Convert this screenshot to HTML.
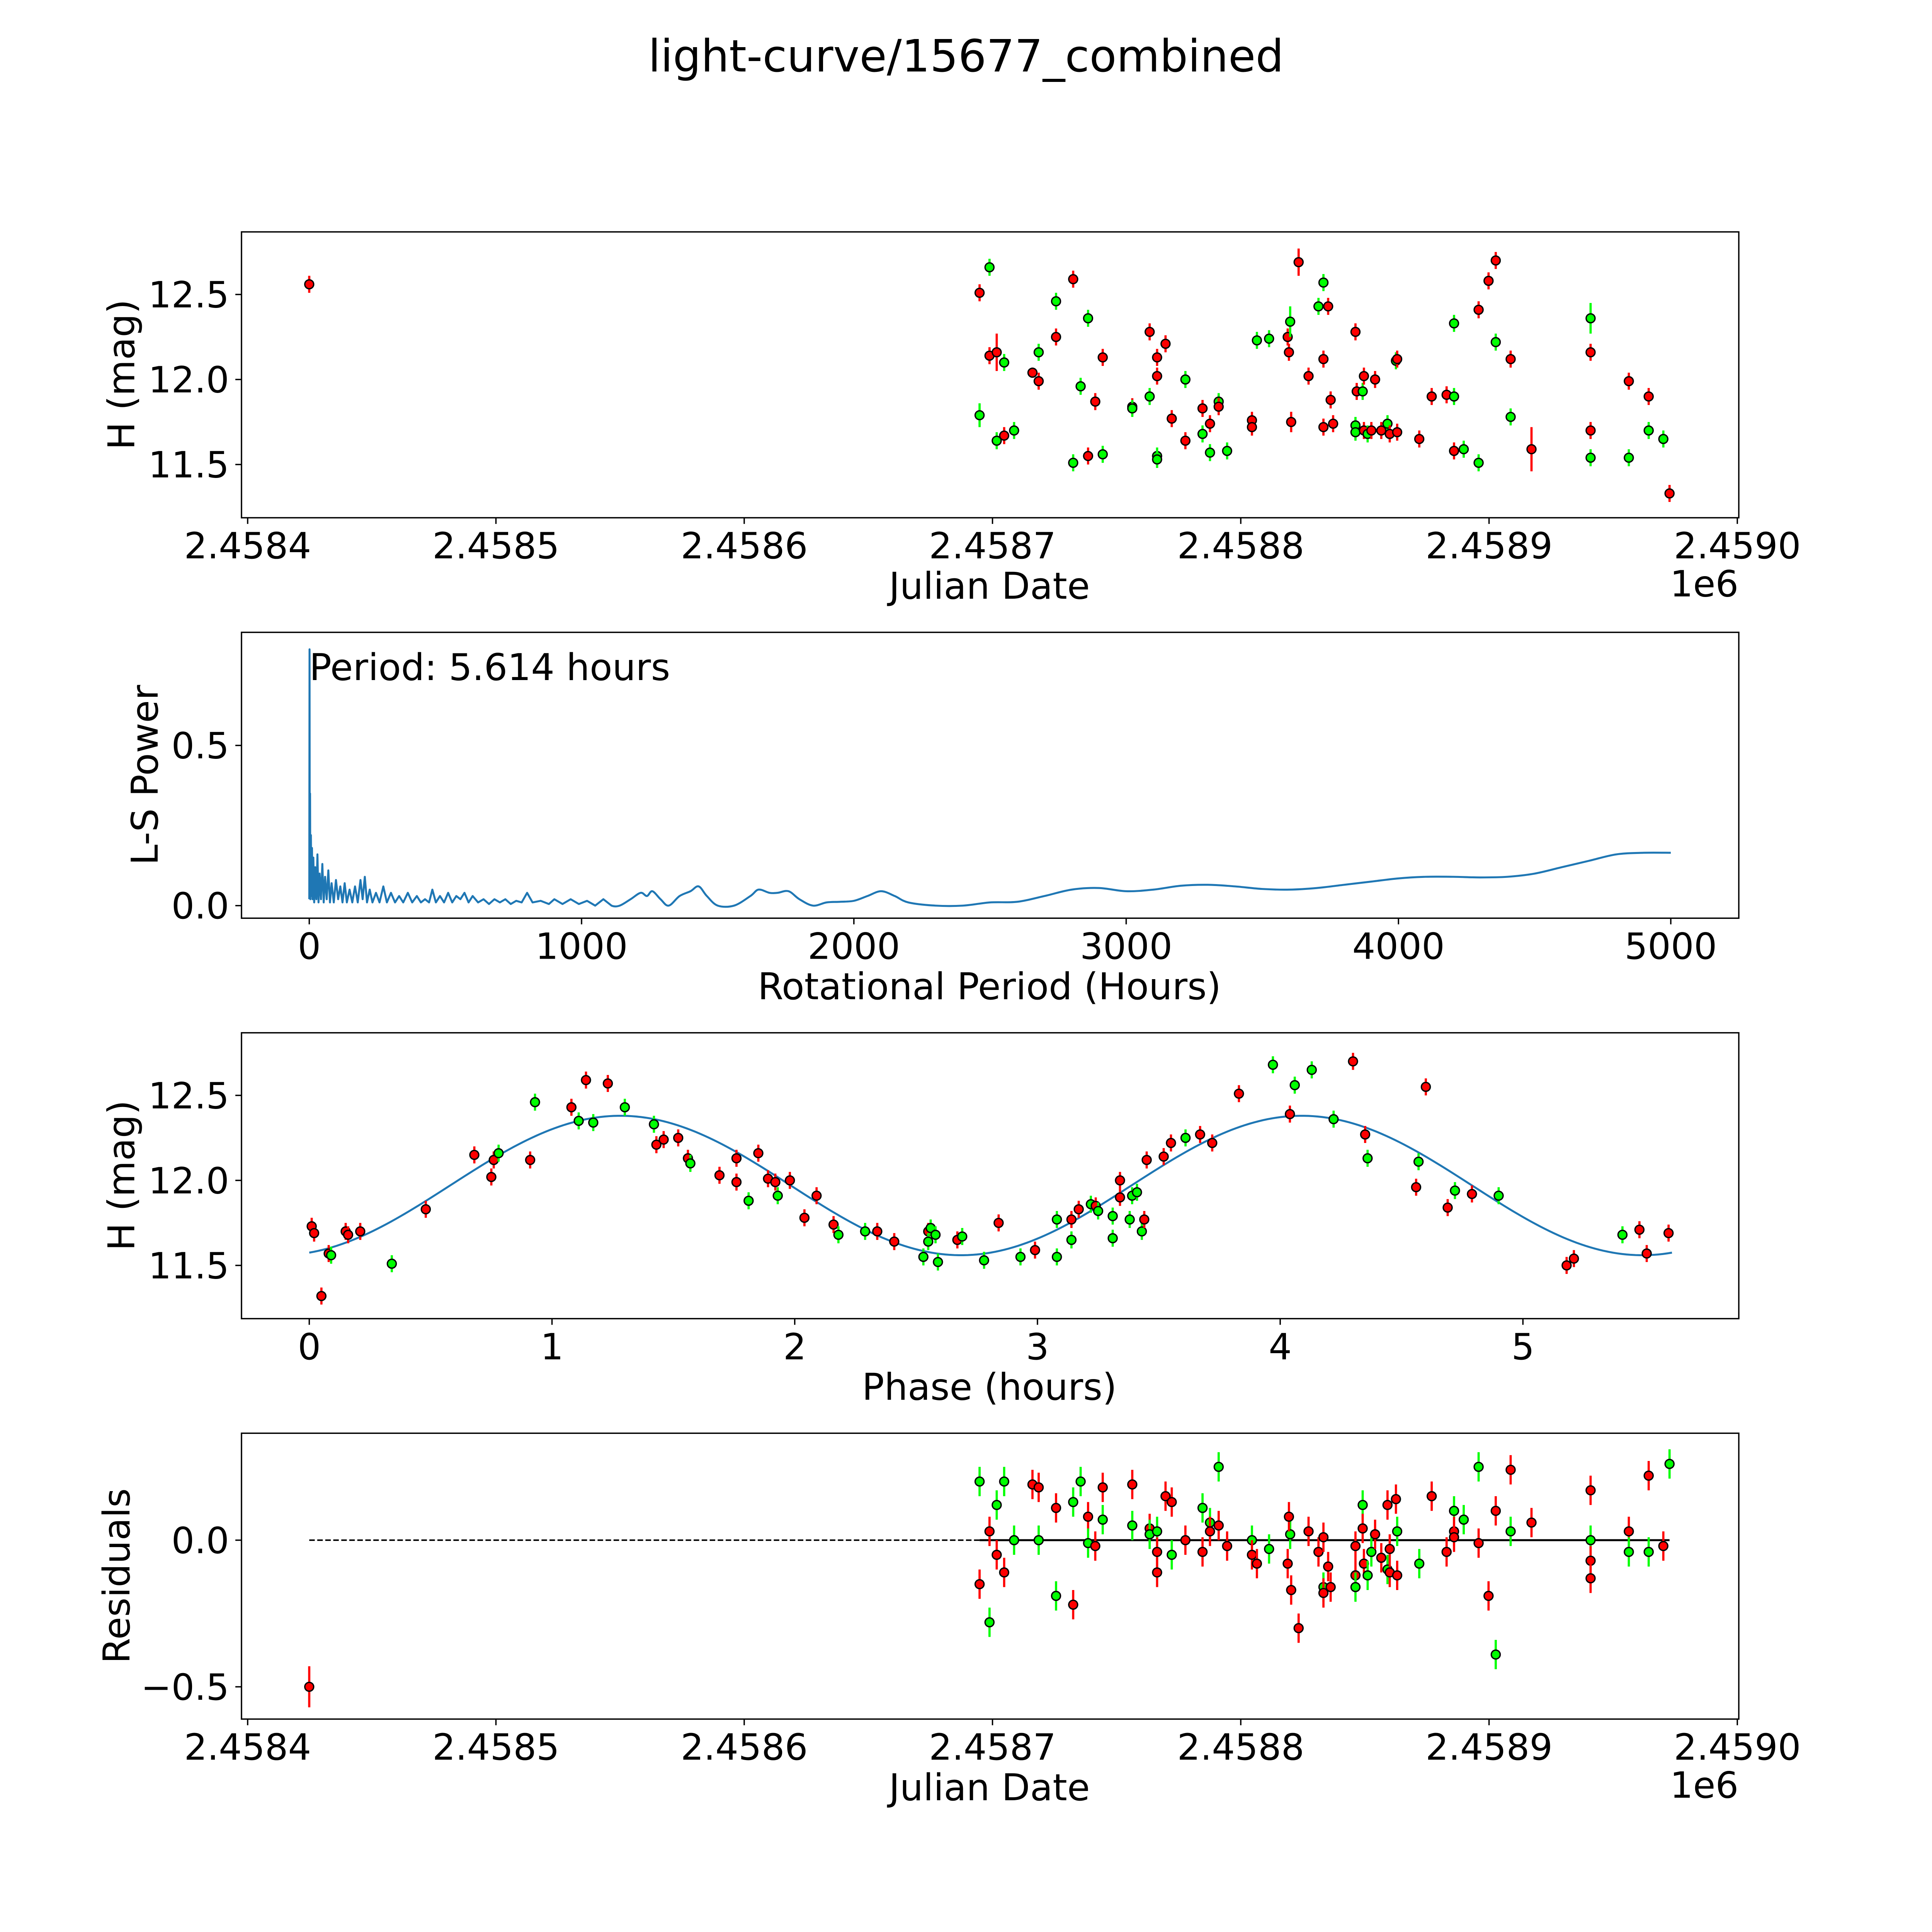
<!DOCTYPE html>
<html><head><meta charset="utf-8"><style>
html,body{margin:0;padding:0;background:#fff;overflow:hidden;width:100vw;height:100vh;}
svg{display:block;position:absolute;left:0;top:0;width:100vw;height:100vh;}
text{font-family:"DejaVu Sans","Liberation Sans",sans-serif;fill:#000;}
</style></head><body>
<svg id="fig" xmlns="http://www.w3.org/2000/svg" viewBox="0 0 1568 1568" preserveAspectRatio="xMinYMin meet">
<rect width="1568" height="1568" fill="#fff"/>
<text x="784" y="58" font-size="36" text-anchor="middle">light-curve/15677_combined</text>
</svg>
<script>
// ---------- Panel 1: light curve (JD = JD0 + day offset) ----------
const JD0 = 2458400;
const p1Days = [24.8,294.8,298.8,298.8,301.7,304.7,294.8,301.7,304.7,308.7,316.1,318.6,318.6,325.6,325.6,332.5,332.5,335.5,338.5,338.5,341.4,344.4,344.4,356.3,356.3,363.3,363.3,366.3,366.3,366.3,366.3,369.7,372.2,377.7,377.7,384.6,384.6,387.6,387.6,391.1,391.1,394.5,404.5,404.5,406.5,411.4,418.9,419.9,419.4,420.3,423.3,427.3,431.3,433.3,435.2,433.3,433.3,436.2,437.2,446.2,446.7,449.1,446.2,446.2,449.6,449.6,451.1,452.6,454.1,456.6,459.1,460.0,463.0,462.5,463.0,471.9,476.9,482.9,485.9,485.9,485.9,489.8,495.8,495.8,499.8,502.7,502.7,508.7,508.7,517.1,540.9,540.9,540.9,540.9,556.3,556.3,564.3,564.3,570.2,572.7];
const p1Mag = [12.56,12.51,12.66,12.14,12.16,12.10,11.79,11.64,11.67,11.70,12.04,12.16,11.99,12.46,12.25,12.59,11.51,11.96,12.36,11.55,11.87,12.13,11.56,11.84,11.83,12.28,11.90,12.13,12.02,11.55,11.53,12.21,11.77,12.00,11.64,11.83,11.68,11.74,11.57,11.87,11.84,11.58,11.76,11.72,12.23,12.24,12.25,12.34,12.16,11.75,12.69,12.02,12.43,12.57,12.43,12.12,11.72,11.88,11.74,12.28,11.93,11.93,11.73,11.69,12.02,11.70,11.68,11.70,12.00,11.70,11.74,11.68,11.69,12.11,12.12,11.65,11.90,11.91,11.90,12.33,11.58,11.59,12.41,11.51,12.58,12.70,12.22,12.12,11.78,11.59,12.36,12.16,11.70,11.54,11.54,11.99,11.90,11.70,11.65,11.33];
const p1Band = "RRGRRGGGRGRGRGRRGGGRRRGRGRGRRGGRRGRRGRGGRGRRGGRGRRRRGGRRRRRRRGGGRRGRRRGRRGRRRRGGRGRGRRGRGRGRRGGRRGGR";
const p1BigErr = {4:0.11,10:0.03,49:0.06,50:0.08,47:0.09,89:0.13,90:0.09,6:0.07,12:0.05};

// ---------- Panel 2: periodogram ----------
const lsPeriod = [0,1,2,3,4,6,8,10,12,15,18,22,26,30,34,38,43,48,53,58,64,70,76,82,90,98,106,114,122,130,138,148,158,168,178,188,196,204,212,222,232,245,258,272,285,300,315,330,345,362,378,395,410,425,440,452,465,480,495,510,525,540,555,570,585,600,620,640,660,680,700,720,740,760,780,800,820,850,880,900,930,960,990,1020,1050,1080,1110,1140,1180,1217,1240,1260,1290,1320,1360,1400,1430,1460,1500,1560,1620,1650,1690,1720,1760,1800,1850,1900,1950,2000,2050,2100,2150,2200,2300,2400,2500,2600,2700,2800,2900,3000,3100,3200,3300,3400,3500,3600,3700,3800,3900,4000,4100,4200,4300,4400,4500,4600,4700,4800,4900,5000];
const lsPower = [0.02,0.80,0.05,0.35,0.02,0.22,0.03,0.18,0.02,0.15,0.01,0.12,0.02,0.16,0.01,0.10,0.02,0.13,0.01,0.09,0.02,0.11,0.01,0.07,0.01,0.08,0.02,0.06,0.01,0.07,0.01,0.05,0.01,0.06,0.01,0.08,0.02,0.09,0.01,0.05,0.01,0.04,0.01,0.06,0.01,0.04,0.01,0.03,0.01,0.04,0.01,0.03,0.01,0.02,0.01,0.05,0.01,0.03,0.01,0.04,0.01,0.03,0.02,0.04,0.01,0.03,0.01,0.02,0.005,0.02,0.01,0.02,0.005,0.015,0.01,0.04,0.01,0.015,0.005,0.02,0.005,0.02,0.005,0.015,0.0,0.02,0.0,0.0,0.02,0.04,0.03,0.045,0.02,0.0,0.03,0.045,0.06,0.03,0.0,0.0,0.03,0.05,0.04,0.04,0.045,0.02,0.0,0.01,0.012,0.015,0.03,0.045,0.03,0.01,0.0,0.0,0.01,0.012,0.03,0.05,0.055,0.045,0.05,0.062,0.065,0.06,0.052,0.05,0.055,0.065,0.075,0.085,0.09,0.09,0.088,0.09,0.1,0.12,0.14,0.16,0.165,0.165,0.155,0.14];
const lsPeriodLabel = "Period: 5.614 hours";
const lsSmoothFrom = 1110;

// ---------- Panel 3: phased curve ----------
const phase = [0.01,0.02,0.05,0.08,0.09,0.15,0.16,0.21,0.34,0.48,0.68,0.75,0.76,0.78,0.91,0.93,1.08,1.11,1.14,1.17,1.23,1.30,1.42,1.43,1.46,1.52,1.56,1.57,1.69,1.76,1.76,1.81,1.85,1.89,1.92,1.93,1.98,2.04,2.09,2.16,2.18,2.29,2.34,2.41,2.53,2.55,2.55,2.56,2.58,2.59,2.67,2.69,2.78,2.84,2.93,2.99,3.08,3.08,3.14,3.14,3.17,3.22,3.24,3.25,3.31,3.31,3.34,3.34,3.38,3.39,3.41,3.43,3.44,3.45,3.52,3.55,3.61,3.67,3.72,3.83,3.97,4.04,4.06,4.13,4.22,4.30,4.35,4.36,4.56,4.57,4.60,4.69,4.72,4.79,4.90,5.18,5.21,5.41,5.48,5.51,5.60];
const phaseMag = [11.73,11.69,11.32,11.57,11.56,11.70,11.68,11.70,11.51,11.83,12.15,12.02,12.12,12.16,12.12,12.46,12.43,12.35,12.59,12.34,12.57,12.43,12.33,12.21,12.24,12.25,12.13,12.10,12.03,12.13,11.99,11.88,12.16,12.01,11.99,11.91,12.00,11.78,11.91,11.74,11.68,11.70,11.70,11.64,11.55,11.70,11.64,11.72,11.68,11.52,11.65,11.67,11.53,11.75,11.55,11.59,11.77,11.55,11.65,11.77,11.83,11.86,11.85,11.82,11.79,11.66,11.90,12.00,11.77,11.91,11.93,11.70,11.77,12.12,12.14,12.22,12.25,12.27,12.22,12.51,12.68,12.39,12.56,12.65,12.36,12.70,12.27,12.13,11.96,12.11,12.55,11.84,11.94,11.92,11.91,11.50,11.54,11.68,11.71,11.57,11.69];
const phaseBand = "RRRRGRRRGRRRRGRGRGRGRGGRRRRGRRRGRRRGRRRRGGRRGRGGGGRGGRGRGGGRRGRGGGRRGGGGRRRRGRRRGRGGGRRGRGRRGRGRRGRRRRR";
const modelMean = 11.97, modelAmp = 0.41, modelPeriod = 5.614, modelShift = 0.58;

// ---------- Panel 4: residuals ----------
const resDays = [24.8,294.8,294.8,298.8,298.8,301.7,301.7,304.7,304.7,308.7,316.1,318.6,318.6,325.6,325.6,332.5,332.5,335.5,338.5,338.5,341.4,344.4,344.4,356.3,356.3,363.3,363.3,366.3,366.3,366.3,369.7,372.2,372.2,377.7,384.6,384.6,387.6,387.6,391.1,391.1,394.5,404.5,404.5,406.5,411.4,418.9,419.9,419.4,420.3,423.3,427.3,431.3,433.3,433.3,433.3,435.2,436.2,446.2,446.2,446.2,449.1,449.1,449.6,451.1,452.6,454.1,456.6,459.1,459.1,460.0,460.0,462.5,463.0,463.0,471.9,476.9,482.9,485.9,485.9,485.9,489.8,495.8,495.8,499.8,502.7,502.7,508.7,508.7,517.1,540.9,540.9,540.9,540.9,556.3,556.3,564.3,564.3,570.2,572.7];
const resVal = [-0.50,0.20,-0.15,0.03,-0.28,0.12,-0.05,0.20,-0.11,0.00,0.19,0.18,0.00,0.11,-0.19,0.13,-0.22,0.20,0.08,-0.01,-0.02,0.18,0.07,0.19,0.05,0.04,0.02,0.03,-0.04,-0.11,0.15,0.13,-0.05,0.00,0.11,-0.04,0.06,0.03,0.25,0.05,-0.02,0.00,-0.05,-0.08,-0.03,-0.08,0.02,0.08,-0.17,-0.30,0.03,-0.04,-0.16,-0.18,0.01,-0.09,-0.16,-0.02,-0.12,-0.16,0.12,0.04,-0.08,-0.12,-0.04,0.02,-0.06,0.12,-0.10,-0.03,-0.11,0.14,0.03,-0.12,-0.08,0.15,-0.04,0.10,0.03,0.01,0.07,0.25,-0.01,-0.19,0.10,-0.39,0.24,0.03,0.06,0.17,0.00,-0.07,-0.13,0.03,-0.04,0.22,-0.04,-0.02,0.26];
const resBand = "RGRRGGRGRGRRGRGGRGRGRRGRGRGGRRRRGRGRGRGRRGRRGRGRRRRRGRRRRRRGGRRGGRRRGRRRGRGRRGRRGGRRRGRGRRGRRRGRGRGGR";

// ---------- Tick labels ----------
const jdTicks = [2458400,2458500,2458600,2458700,2458800,2458900,2459000];
const jdTickLabels = ["2.4584","2.4585","2.4586","2.4587","2.4588","2.4589","2.4590"];
const magTicks = [11.5,12.0,12.5];
const lsXTicks = [0,1000,2000,3000,4000,5000];
const lsYTicks = [0.0,0.5];
const phaseTicks = [0,1,2,3,4,5];
const resTicks = [-0.5,0.0];
const resTickLabels = ["\u22120.5","0.0"];

const NS = "http://www.w3.org/2000/svg";
const svg = document.getElementById('fig');
function el(tag, attrs, parent, txt){
  const e = document.createElementNS(NS, tag);
  for (const k in attrs) e.setAttribute(k, attrs[k]);
  if (txt !== undefined) e.textContent = txt;
  (parent||svg).appendChild(e);
  return e;
}
const AX_L = 196, AX_R = 1411.2, AX_H = 232;
const tops = [188.2, 513.2, 838.2, 1163.2];
const TICK_FS = 29.5, LABEL_FS = 30;
function lin(d0,d1,r0,r1){ return v => r0 + (v-d0)*(r1-r0)/(d1-d0); }

const xJD = lin(2458400, 2459000, 201, 1410);
const y1 = lin(12.0, 12.5, 308, 239);
const x2 = lin(0, 5000, 251, 1356);
const y2 = lin(0, 0.5, 735, 605);
const x3 = lin(0, 5, 251, 1236);
const y3 = lin(12.0, 12.5, 958, 889);
const y4 = lin(0, -0.5, 1250, 1369);

function frame(i, name){
  const g = el('g', {}, svg);
  
  
  const r = el('rect', {x:AX_L, y:tops[i], width:AX_R-AX_L, height:AX_H, fill:'none', stroke:'#000', 'stroke-width':1.1}, g);
  
  
  return g;
}
function xTicks(g, i, vals, labels, sx, name){
  const yb = tops[i] + AX_H;
  vals.forEach((v,k)=>{
    const x = sx(v);
    const t = el('line', {x1:x, x2:x, y1:yb, y2:yb+5, stroke:'#000', 'stroke-width':1.1}, g);
    
    
    const lb = el('text', {x:x, y:yb+33, 'font-size':TICK_FS, 'text-anchor':'middle'}, g, labels[k]);
    
    
  });
}
function yTicks(g, vals, labels, sy, name){
  vals.forEach((v,k)=>{
    const y = sy(v);
    const t = el('line', {x1:AX_L-5, x2:AX_L, y1:y, y2:y, stroke:'#000', 'stroke-width':1.1}, g);
    
    
    const lb = el('text', {x:AX_L-10, y:y+10.5, 'font-size':TICK_FS, 'text-anchor':'end'}, g, labels[k]);
    
    
  });
}
function xLabel(g, txt, y, name){
  const t = el('text', {x:803, y:y, 'font-size':LABEL_FS, 'text-anchor':'middle'}, g, txt);
  
  
}
function yLabel(g, txt, x, cy, name){
  const t = el('text', {x:x, y:cy, 'font-size':LABEL_FS, 'text-anchor':'middle', transform:'rotate(-90 '+x+' '+cy+')'}, g, txt);
  
  
}
function point(g, x, y, eTop, eBot, band, name){
  const col = band === 'G' ? '#00ff00' : '#ff0000';
  const e = el('line', {x1:x, x2:x, y1:eTop, y2:eBot, stroke:col, 'stroke-width':1.8}, g);
  
  
  const c = el('circle', {cx:x, cy:y, r:3.6, fill:col, stroke:'#000', 'stroke-width':1.1}, g);
  
  
}
function fmt1(v){ return v.toFixed(1); }

// ----- Panel 1 -----
const g1 = frame(0, 'light-curve-panel');
xTicks(g1, 0, jdTicks, jdTickLabels, xJD, 'jd-x-axis');
yTicks(g1, magTicks, magTicks.map(fmt1), y1, 'mag-y-axis');
xLabel(g1, 'Julian Date', 486, 'x-axis-title');
const e1 = el('text', {x:1411, y:484, 'font-size':TICK_FS, 'text-anchor':'end'}, g1, '1e6');


yLabel(g1, 'H (mag)', 109, 304, 'y-axis-title');
p1Days.forEach((d,i)=>{
  const err = p1BigErr[i] !== undefined ? p1BigErr[i] : 0.05;
  const m = p1Mag[i];
  point(g1, xJD(JD0+d), y1(m), y1(m+err), y1(m-err), p1Band[i], 'light-curve-point');
});

// ----- Panel 2 -----
const g2 = frame(1, 'periodogram-panel');
xTicks(g2, 1, lsXTicks, lsXTicks.map(String), x2, 'period-x-axis');
yTicks(g2, lsYTicks, lsYTicks.map(fmt1), y2, 'power-y-axis');
xLabel(g2, 'Rotational Period (Hours)', 811, 'x-axis-title');
yLabel(g2, 'L-S Power', 128, 629, 'y-axis-title');
const P = lsPeriod.map((p,i)=>[x2(p), y2(lsPower[i])]);
let d = 'M' + P[0][0].toFixed(2) + ',' + P[0][1].toFixed(2);
for (let i=1;i<P.length;i++){
  if (lsPeriod[i] <= lsSmoothFrom){
    d += ' L' + P[i][0].toFixed(2) + ',' + P[i][1].toFixed(2);
  } else {
    const p0 = P[Math.max(i-2,0)], p1 = P[i-1], p2 = P[i], p3 = P[Math.min(i+1,P.length-1)];
    const c1x = p1[0] + (p2[0]-p0[0])/6, c1y = p1[1] + (p2[1]-p0[1])/6;
    const c2x = p2[0] - (p3[0]-p1[0])/6, c2y = p2[1] - (p3[1]-p1[1])/6;
    d += ' C' + c1x.toFixed(2)+','+c1y.toFixed(2)+' '+c2x.toFixed(2)+','+c2y.toFixed(2)+' '+p2[0].toFixed(2)+','+p2[1].toFixed(2);
  }
}
const ls = el('path', {d:d, fill:'none', stroke:'#1f77b4', 'stroke-width':1.6, 'stroke-linejoin':'round'}, g2);


const ann = el('text', {x:251, y:552, 'font-size':LABEL_FS}, g2, lsPeriodLabel);



// ----- Panel 3 -----
const g3 = frame(2, 'phase-panel');
xTicks(g3, 2, phaseTicks, phaseTicks.map(String), x3, 'phase-x-axis');
yTicks(g3, magTicks, magTicks.map(fmt1), y3, 'mag-y-axis');
xLabel(g3, 'Phase (hours)', 1136, 'x-axis-title');
yLabel(g3, 'H (mag)', 109, 954, 'y-axis-title');
let mp = [];
for (let k=0;k<=300;k++){
  const ph = modelPeriod*k/300;
  const m = modelMean + modelAmp*Math.sin(4*Math.PI*(ph-modelShift)/modelPeriod);
  mp.push(x3(ph).toFixed(2)+','+y3(m).toFixed(2));
}
const model = el('polyline', {points:mp.join(' '), fill:'none', stroke:'#1f77b4', 'stroke-width':1.6}, g3);


phase.forEach((p,i)=>{
  const m = phaseMag[i];
  point(g3, x3(p), y3(m), y3(m+0.05), y3(m-0.05), phaseBand[i], 'phase-point');
});

// ----- Panel 4 -----
const g4 = frame(3, 'residuals-panel');
xTicks(g4, 3, jdTicks, jdTickLabels, xJD, 'jd-x-axis');
yTicks(g4, resTicks, resTickLabels, y4, 'residual-y-axis');
xLabel(g4, 'Julian Date', 1461, 'x-axis-title');
const e4 = el('text', {x:1411, y:1459, 'font-size':TICK_FS, 'text-anchor':'end'}, g4, '1e6');


yLabel(g4, 'Residuals', 105, 1279, 'y-axis-title');
const dl = el('line', {x1:xJD(JD0+resDays[0]), x2:xJD(JD0+resDays[resDays.length-1]), y1:y4(0), y2:y4(0), stroke:'#000', 'stroke-width':1.2, 'stroke-dasharray':'4.5,2'}, g4);


const sl = el('line', {x1:xJD(JD0+resDays[1]), x2:xJD(JD0+resDays[resDays.length-1]), y1:y4(0), y2:y4(0), stroke:'#000', 'stroke-width':1.6}, g4);


resDays.forEach((d,i)=>{
  const r = resVal[i];
  const err = (i===0) ? 0.07 : 0.05;
  point(g4, xJD(JD0+d), y4(r), y4(r+err), y4(r-err), resBand[i], 'residual-point');
});
</script>
</body></html>
